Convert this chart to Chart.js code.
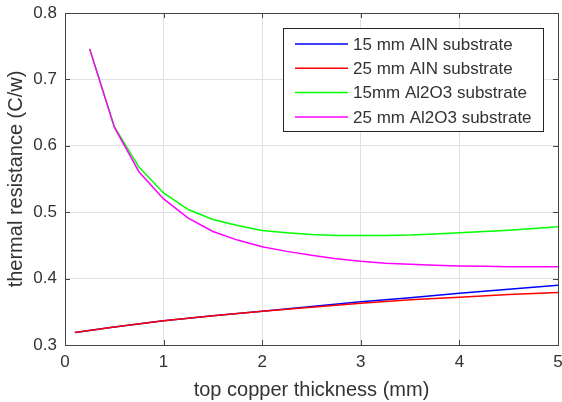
<!DOCTYPE html>
<html>
<head>
<meta charset="utf-8">
<script src="https://cdn.jsdelivr.net/npm/chart.js@4/dist/chart.umd.min.js"></script>
<style>
  html, body { margin: 0; padding: 0; background: #fff; }
</style>
</head>
<body>
<canvas id="thermalChart" width="562" height="402"></canvas>
<script>
const seriesLabels = ['15 mm AIN substrate', '25 mm AIN substrate', '15mm Al2O3 substrate', '25 mm Al2O3 substrate'];
const seriesColors = ['#0000ff', '#ff0000', '#00ff00', '#ff00ff'];

const alnThickness = [0.1, 0.5, 1, 1.5, 2, 2.5, 3, 3.5, 4, 4.5, 5];
const aln15 = [0.319, 0.327, 0.3365, 0.344, 0.351, 0.358, 0.365, 0.371, 0.378, 0.384, 0.390];
const aln25 = [0.319, 0.327, 0.3365, 0.344, 0.351, 0.357, 0.363, 0.368, 0.372, 0.376, 0.379];

const aloThickness = [0.25, 0.5, 0.75, 1, 1.25, 1.5, 1.75, 2, 2.25, 2.5, 2.75, 3, 3.25, 3.5, 3.75, 4, 4.25, 4.5, 4.75, 5];
const alo15 = [0.746, 0.629, 0.568, 0.529, 0.504, 0.489, 0.480, 0.4725, 0.469, 0.4665, 0.465, 0.465, 0.465, 0.4655, 0.467, 0.469, 0.471, 0.473, 0.4755, 0.478];
const alo25 = [0.746, 0.628, 0.561, 0.520, 0.491, 0.471, 0.458, 0.448, 0.441, 0.435, 0.430, 0.426, 0.423, 0.4215, 0.420, 0.419, 0.4185, 0.418, 0.418, 0.418];

const xTicks = [0, 1, 2, 3, 4, 5];
const yTicks = [0.3, 0.4, 0.5, 0.6, 0.7, 0.8];

const textColor = '#333333';
const axisColor = '#444444';
const fontFamily = '"Liberation Sans", Arial, Helvetica, sans-serif';

function toPoints(xs, ys) {
  return xs.map((x, i) => ({ x: x, y: ys[i] }));
}

function line(idx, xs, ys, order) {
  return {
    label: seriesLabels[idx],
    data: toPoints(xs, ys),
    borderColor: seriesColors[idx],
    backgroundColor: seriesColors[idx],
    borderWidth: 1.5,
    pointRadius: 0,
    tension: 0,
    fill: false,
    order: order
  };
}

// box around the plot, inward ticks and the legend, drawn MATLAB style
const matlabFrame = {
  id: 'matlabFrame',
  afterDraw(chart) {
    const ctx = chart.ctx;
    const a = chart.chartArea;
    const xs = chart.scales.x;
    const ys = chart.scales.y;
    ctx.save();
    ctx.strokeStyle = axisColor;
    ctx.lineWidth = 1;
    ctx.strokeRect(Math.round(a.left) + 0.5, Math.round(a.top) + 0.5, Math.round(a.right - a.left), Math.round(a.bottom - a.top));
    ctx.beginPath();
    xTicks.forEach(v => {
      const px = Math.round(xs.getPixelForValue(v)) + 0.5;
      ctx.moveTo(px, a.bottom); ctx.lineTo(px, a.bottom - 5);
      ctx.moveTo(px, a.top); ctx.lineTo(px, a.top + 5);
    });
    yTicks.forEach(v => {
      const py = Math.round(ys.getPixelForValue(v)) + 0.5;
      ctx.moveTo(a.left, py); ctx.lineTo(a.left + 5, py);
      ctx.moveTo(a.right, py); ctx.lineTo(a.right - 5, py);
    });
    ctx.stroke();

    // legend
    const bx = 283.5, by = 28.5, bw = 260, bh = 103;
    ctx.fillStyle = '#ffffff';
    ctx.fillRect(bx, by, bw, bh);
    ctx.strokeStyle = '#262626';
    ctx.strokeRect(bx, by, bw, bh);
    ctx.font = '17px ' + fontFamily;
    ctx.textBaseline = 'middle';
    ctx.textAlign = 'left';
    chart.data.datasets.forEach((ds, i) => {
      const ry = 44 + i * 24.3;
      ctx.strokeStyle = ds.borderColor;
      ctx.lineWidth = 1.5;
      ctx.beginPath();
      ctx.moveTo(295, ry); ctx.lineTo(348, ry);
      ctx.stroke();
      ctx.fillStyle = textColor;
      ctx.fillText(ds.label, 353, ry + 1);
    });
    ctx.restore();
  }
};

new Chart(document.getElementById('thermalChart'), {
  type: 'line',
  data: {
    datasets: [
      line(0, alnThickness, aln15, 1),
      line(1, alnThickness, aln25, 0),
      line(2, aloThickness, alo15, 1),
      line(3, aloThickness, alo25, 0)
    ]
  },
  options: {
    responsive: false,
    animation: false,
    layout: { padding: { left: 0, right: 4, top: 13, bottom: 0 } },
    plugins: {
      legend: { display: false },
      tooltip: { enabled: false }
    },
    scales: {
      x: {
        type: 'linear',
        min: 0,
        max: 5,
        afterFit: s => { s.height = 57; s.paddingLeft = 0; s.paddingRight = 0; },
        afterBuildTicks: s => { s.ticks = xTicks.map(v => ({ value: v })); },
        grid: { color: '#e0e0e0', drawTicks: false },
        border: { display: false },
        ticks: {
          padding: 7,
          color: textColor,
          font: { family: fontFamily, size: 17 },
          maxRotation: 0,
          callback: v => String(v)
        },
        title: {
          display: true,
          text: 'top copper thickness (mm)',
          color: textColor,
          font: { family: fontFamily, size: 20 },
          padding: { top: 2, bottom: 0 }
        }
      },
      y: {
        type: 'linear',
        min: 0.3,
        max: 0.8,
        afterFit: s => { s.width = 65; s.paddingTop = 0; s.paddingBottom = 0; },
        afterBuildTicks: s => { s.ticks = yTicks.map(v => ({ value: v })); },
        grid: { color: '#e0e0e0', drawTicks: false },
        border: { display: false },
        ticks: {
          padding: 8,
          color: textColor,
          font: { family: fontFamily, size: 17 },
          callback: v => v.toFixed(1)
        },
        title: {
          display: true,
          text: 'thermal resistance (C/w)',
          color: textColor,
          font: { family: fontFamily, size: 20 },
          padding: { top: 4, bottom: 0 }
        }
      }
    }
  },
  plugins: [matlabFrame]
});
</script>
</body>
</html>
